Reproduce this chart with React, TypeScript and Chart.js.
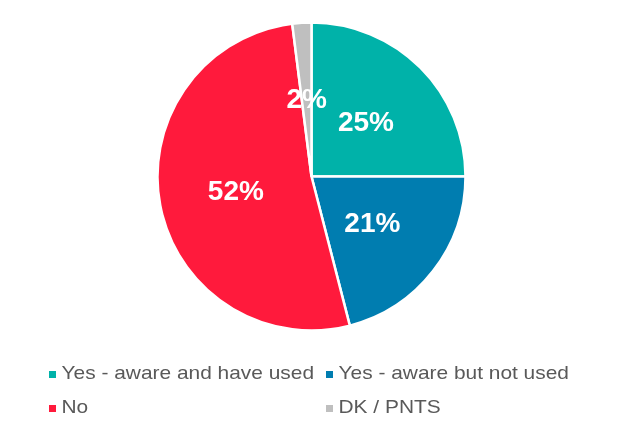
import React, { useEffect, useRef } from "react";
import { Chart, registerables } from "chart.js";

Chart.register(...registerables);

const categories = [
  "Yes - aware and have used",
  "Yes - aware but not used",
  "No",
  "DK / PNTS",
];
const values = [25, 21, 52, 2];
const valueLabels = ["25%", "21%", "52%", "2%"];
const colors = ["#00B2A9", "#007DB0", "#FF1A3C", "#BFBFBF"];

const FONT = '"Liberation Sans", Arial, sans-serif';

const sliceLabels = {
  id: "sliceLabels",
  afterDatasetsDraw(chart: any) {
    const ctx = chart.ctx;
    const meta = chart.getDatasetMeta(0);
    ctx.save();
    ctx.fillStyle = "#FFFFFF";
    ctx.font = `bold 28px ${FONT}`;
    ctx.textAlign = "center";
    ctx.textBaseline = "middle";
    meta.data.forEach((arc: any, i: number) => {
      const p = arc.tooltipPosition(false);
      ctx.fillText(valueLabels[i], p.x, p.y + 1);
    });
    ctx.restore();
  },
};

const gridLegend = {
  id: "gridLegend",
  afterDraw(chart: any) {
    const ctx = chart.ctx;
    const colX = [49, 326];
    const rowBase = [379, 413];
    ctx.save();
    ctx.font = `19px ${FONT}`;
    ctx.textBaseline = "alphabetic";
    ctx.textAlign = "left";
    categories.forEach((label, i) => {
      const col = i % 2;
      const row = Math.floor(i / 2);
      const x = colX[col];
      const y = rowBase[row];
      ctx.fillStyle = colors[i];
      ctx.fillRect(x, y - 8, 7, 7);
      ctx.save();
      ctx.translate(x + 12.5, y);
      ctx.scale(1.1, 1);
      ctx.fillStyle = "#595959";
      ctx.fillText(label, 0, 0);
      ctx.restore();
    });
    ctx.restore();
  },
};

export default function App() {
  const ref = useRef<HTMLCanvasElement | null>(null);
  useEffect(() => {
    if (!ref.current) return;
    const chart = new Chart(ref.current, {
      type: "pie",
      data: {
        labels: categories,
        datasets: [
          {
            data: values,
            backgroundColor: colors,
            borderColor: "#FFFFFF",
            borderWidth: 2.5,
          },
        ],
      },
      options: {
        responsive: false,
        animation: false,
        radius: 154,
        layout: { padding: { top: 21, bottom: 104, left: 2, right: 0 } },
        plugins: {
          legend: { display: false },
          tooltip: { enabled: false },
        },
      } as any,
      plugins: [sliceLabels, gridLegend],
    });
    return () => chart.destroy();
  }, []);
  return (
    <div
      style={{
        position: "absolute",
        left: 0,
        top: 0,
        width: 621,
        height: 436,
        background: "#FFFFFF",
      }}
    >
      <canvas ref={ref} width={621} height={436} style={{ width: 621, height: 436 }} />
    </div>
  );
}
